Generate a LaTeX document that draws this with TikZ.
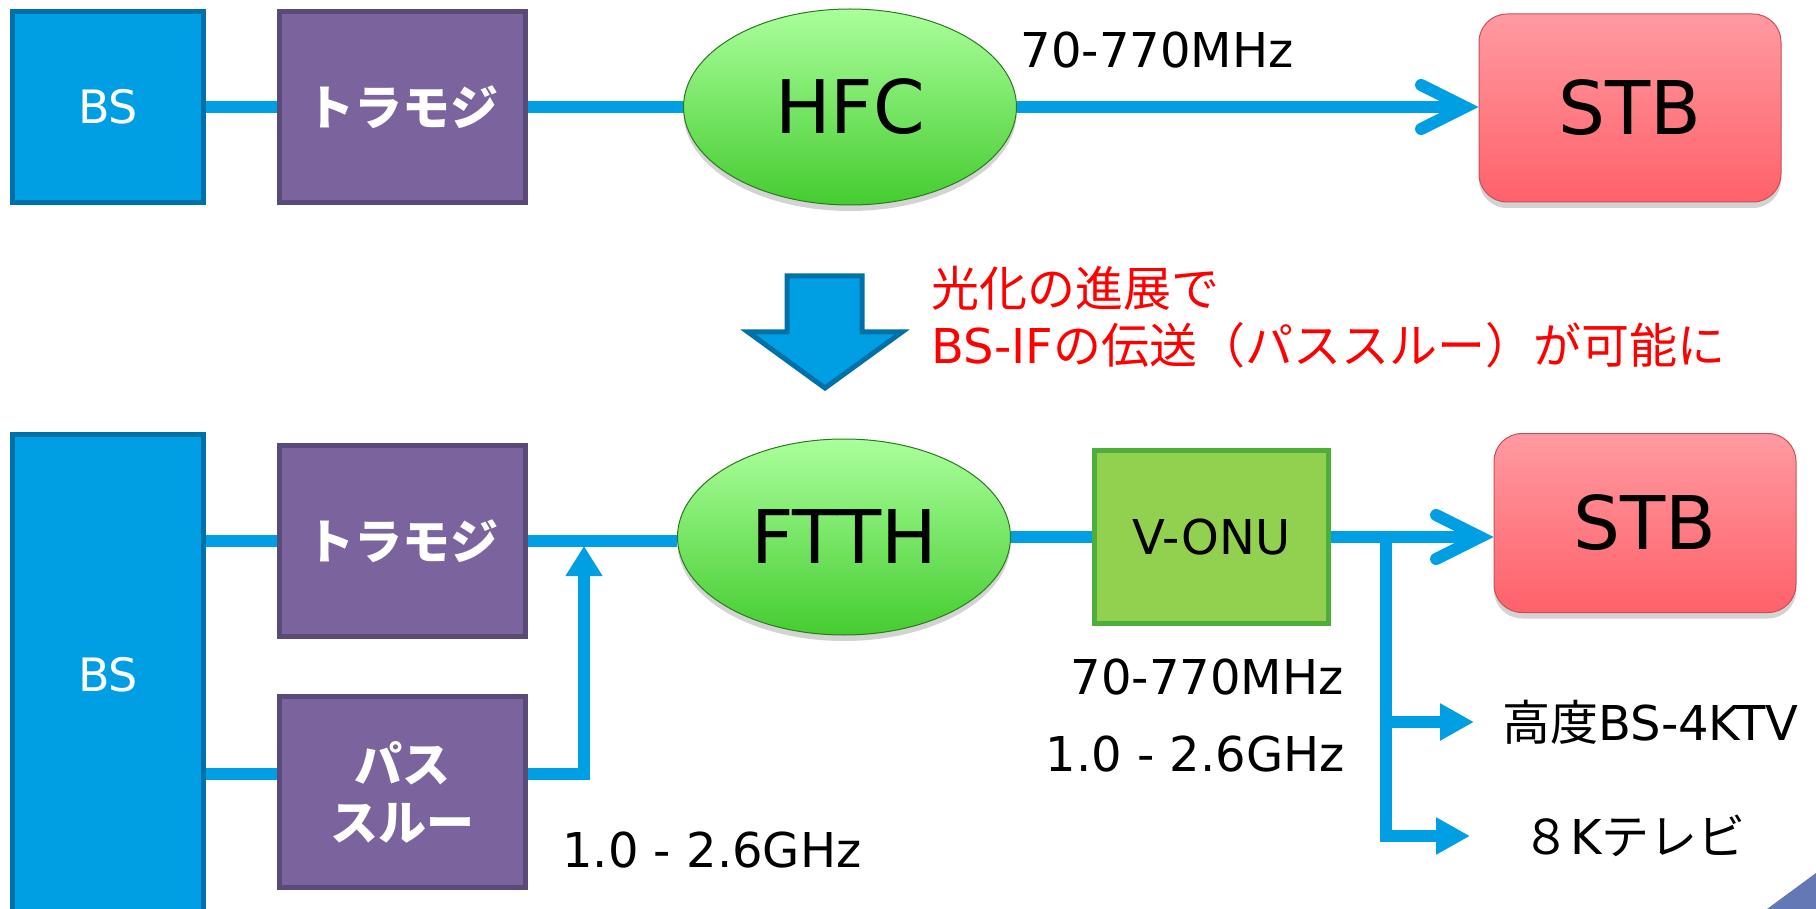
\documentclass[tikz,border=0pt]{standalone}
\usepackage{fontspec}
\setmainfont{DejaVu Sans}
\newfontfamily\jp{Noto Sans CJK JP}
\usepackage{tikz}
\usetikzlibrary{arrows.meta,positioning,calc,shapes.geometric,shadows}
\definecolor{wire}{HTML}{009FE3}
\definecolor{bsb}{HTML}{0070A8}
\definecolor{tmf}{HTML}{7B639D}
\definecolor{tmb}{HTML}{5A4A78}
\definecolor{onuf}{HTML}{92D050}
\definecolor{onub}{HTML}{4DAF3A}
\definecolor{elt}{HTML}{AAFF9B}
\definecolor{elb}{HTML}{45CC30}
\definecolor{stbt}{HTML}{FF9AA2}
\definecolor{stbb}{HTML}{FF6169}
\definecolor{note}{HTML}{FF0000}
\definecolor{crn}{HTML}{6378B4}

\begin{document}
\begin{tikzpicture}[
  x=0.5pt, y=-0.5pt,
  blk/.style={draw, line width=2.5pt, inner sep=0pt, text=white},
  bs/.style={blk, draw=bsb, fill=wire, minimum width=95.5pt, font=\fontsize{23pt}{28pt}\selectfont},
  tm/.style={blk, draw=tmb, fill=tmf, minimum width=123pt, minimum height=95.5pt, align=center, font=\jp\bfseries\fontsize{24pt}{29pt}\selectfont},
  shd/.style={drop shadow={opacity=0.35, shadow xshift=0pt, shadow yshift=-3pt}},
  ell/.style={ellipse, shd, draw=elb!60!black, line width=0.5pt, top color=elt, bottom color=elb, minimum width=166.5pt, minimum height=98pt, inner sep=0pt, font=\fontsize{37pt}{40pt}\selectfont},
  stb/.style={rounded corners=14pt, shd, draw=stbb!80!black, line width=0.5pt, top color=stbt, bottom color=stbb, minimum width=151pt, inner sep=0pt, font=\fontsize{37pt}{40pt}\selectfont},
  onu/.style={draw=onub, fill=onuf, line width=2.5pt, minimum width=117pt, minimum height=86.5pt, inner sep=0pt, font=\fontsize{24pt}{28pt}\selectfont},
  lbl/.style={inner sep=0pt, font=\fontsize{24pt}{28pt}\selectfont},
  ln/.style={draw=wire, line width=6pt},
  bar/.style={ln, -{Straight Barb[length=22pt, width=22pt, line cap=round]}},
  tri/.style={ln, -{Triangle[length=#1, width=17.5pt]}}, tri/.default=17pt
]
\clip (0,0) rectangle (1816,909);
\node[bs, minimum height=95.5pt] (bs1) at (108,107) {BS};
\node[tm] (tm1) at (402.5,107) {トラモジ};
\node[ell] (hfc) at (850,107) {HFC};
\node[stb, minimum height=94pt] (stb1) at (1630,108) {STB};
\node[lbl] (f1) at (1157,50) {70-770MHz};
\draw[ln] (bs1) -- (tm1);
\draw[ln] (tm1) -- (hfc);
\draw[bar] (hfc) -- (hfc -| stb1.west);
\draw[draw=bsb, fill=wire, line width=2.5pt] (787,276) -- (862,276) -- (862,332) -- (902,332) -- (825,388) -- (748,332) -- (787,332) -- cycle;
\node[lbl, anchor=west, align=left, text=note, font=\fontsize{24pt}{28.5pt}\selectfont] (nt) at (931,317) {{\jp 光化の進展で}\\BS-IF{\jp の伝送（パススルー）が可能に}};
\node[bs, minimum height=240.5pt] (bs2) at (108,675) {BS};
\node[tm] (tm2) at (402.5,541) {トラモジ};
\node[tm] (ps) at (402.5,792) {パス\\スルー};
\node[ell] (ftth) at (844,537) {FTTH};
\node[onu] (vonu) at (1211.5,537) {V-ONU};
\node[stb, minimum height=89.5pt] (stb2) at (1645,523) {STB};
\node[lbl, anchor=west] (k4) at (1502,722) {{\jp 高度}BS-4KTV};
\node[lbl, anchor=west] (k8) at (1522,836) {{\jp ８}K{\jp テレビ}};
\node[lbl, anchor=east] (f2) at (1344,677) {70-770MHz};
\node[lbl, anchor=east] (g2) at (1345,754) {1.0 - 2.6GHz};
\node[lbl, anchor=west] (g1) at (562,850) {1.0 - 2.6GHz};
\coordinate (pin) at ([yshift=9pt]ps.west);
\coordinate (pout) at ([yshift=9pt]ps.east);
\coordinate (jn) at (584,546);
\coordinate (br) at ([xshift=27.5pt]vonu.east);
\draw[ln] (bs2.east |- tm2) -- (tm2);
\draw[ln] (bs2.east |- pin) -- (pin);
\draw[tri=15pt] (pout) -| (jn);
\draw[ln] (tm2.east) -- (tm2.east -| ftth.west);
\draw[ln] (ftth) -- (vonu);
\draw[bar] (vonu) -- (vonu -| stb2.west);
\draw[tri] (br) |- ([xshift=-14pt]k4.west);
\draw[tri] (br) |- ([xshift=-26pt]k8.west);
\fill[crn] (1767,909) -- (1816,873) -- (1816,909) -- cycle;
\end{tikzpicture}
\end{document}
